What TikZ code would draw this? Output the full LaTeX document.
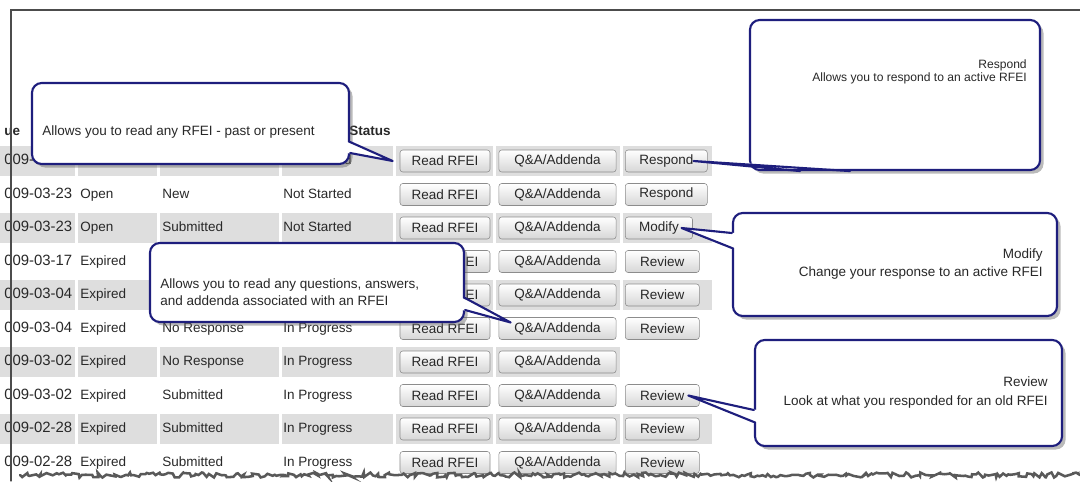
\documentclass[tikz,border=0pt]{standalone}
\usepackage{fontspec}
\setmainfont{Liberation Sans}
\usetikzlibrary{calc,shadows,decorations.pathmorphing}
\definecolor{tipblue}{RGB}{30,30,125}
\definecolor{inkgray}{RGB}{40,40,40}
\newcommand\tbfont{\fontsize{9.6}{11.5}\selectfont}

\tikzset{
  cell/.style={fill=black!13},
  btn/.style={draw=black!45,rounded corners=2pt,top color=white,bottom color=black!16,
    minimum height=0.55cm,inner sep=0pt,text=inkgray},
  tbl/.style={anchor=west,inner sep=0pt,text=inkgray,text height=7pt,text depth=2pt},
  callout/.style={draw=tipblue,line width=1.5pt,fill=white,rounded corners=7pt,inner sep=0pt,
    drop shadow={shadow xshift=2.5pt,shadow yshift=-2.5pt,fill=black!60,opacity=.45}},
  callline/.style={draw=tipblue,line width=1.5pt,line join=round},
  calltext/.style={inner sep=0pt,text=inkgray},
}

\begin{document}
\begin{tikzpicture}[x=0.025cm,y=-0.025cm,font=\tbfont,line cap=round]
\useasboundingbox (0,0) rectangle (1080,481);
\clip (0,0) rectangle (1080,481);
% shaded rows
\foreach \i in {1,3,5,7,9}{
  \pgfmathsetmacro\ry{161+33.5*(\i-1)}
  \foreach \a/\b in {-2/75,78/157,160/279,282/393,396/493,496/620}
    \fill[cell] (\a,\ry-15) rectangle (\b,\ry+15);
}
\foreach \i in {1,3,5,9}{
  \pgfmathsetmacro\ry{161+33.5*(\i-1)}
  \fill[cell] (623,\ry-15) rectangle (712,\ry+15);
}
% header
\node[tbl,font=\tbfont\bfseries] (hdue) at (4,132) {ue};
\node[tbl,font=\tbfont\bfseries] (hstatus) at (349,132) {Status};
% table text
\foreach \i/\d/\s/\r/\p in {1/009-03-23/{}/{}/Not Started,
    2/009-03-23/Open/New/Not Started,
    3/009-03-23/Open/Submitted/Not Started,
    4/009-03-17/Expired/{}/{},
    5/009-03-04/Expired/{}/{},
    6/009-03-04/Expired/No Response/In Progress,
    7/009-03-02/Expired/No Response/In Progress,
    8/009-03-02/Expired/Submitted/In Progress,
    9/009-02-28/Expired/Submitted/In Progress,
    10/009-02-28/Expired/Submitted/In Progress}{
  \pgfmathsetmacro\ry{161+33.5*(\i-1)}
  \node[tbl,font=\fontsize{10.6}{12}\selectfont] (date\i) at (4,\ry) {\d};
  \node[tbl] (stat\i) at (80,\ry) {\s};
  \node[tbl] (resp\i) at (162,\ry) {\r};
  \node[tbl] (prog\i) at (283,\ry) {\p};
}
% buttons
\foreach \i in {1,...,10}{
  \pgfmathsetmacro\ry{161+33.5*(\i-1)}
  \node[btn,minimum width=2.25cm] (read\i) at (445,\ry) {Read RFEI};
  \node[btn,minimum width=2.93cm] (qa\i) at (557.5,\ry) {Q\&A/Addenda};
}
\foreach \i/\t/\w in {1/Respond/2.05,2/Respond/2.05,3/Modify/1.68,4/Review/1.85,
    5/Review/1.85,6/Review/1.85,8/Review/1.85,9/Review/1.85,10/Review/1.85}{
  \pgfmathsetmacro\ry{161+33.5*(\i-1)}
  \node[btn,anchor=west,minimum width=\w cm] (act\i) at (625,\ry) {\t};
}
% callouts
\node[callout,minimum width=7.925cm,minimum height=2.025cm] (readbox) at (190.5,123.5) {};
\fill[white] ($(readbox.east)+(-3,18.5)$) -- ([xshift=-5pt]read1.west) -- ($(readbox.east)+(-3,29.5)$) -- cycle;
\draw[callline] ($(readbox.east)+(0,18.5)$) -- ([xshift=-5pt]read1.west) -- ($(readbox.east)+(0,29.5)$);
\node[calltext,anchor=west] (readtxt) at (42,132) {Allows you to read any RFEI - past or present};

\node[callout,minimum width=7.25cm,minimum height=3.75cm] (respbox) at (895,95) {};
\fill[white] ($(respbox.south)+(-95,-3)$) -- ([xshift=-10pt]act1.east) -- ($(respbox.south)+(-45,-3)$) -- cycle;
\draw[callline] ($(respbox.south)+(-95,0)$) -- ([xshift=-10pt]act1.east) -- ($(respbox.south)+(-45,0)$);
\node[calltext,anchor=east,align=right,font=\fontsize{8.6}{9.4}\selectfont] (resptxt) at (1027,71.5)
  {Respond\\Allows you to respond to an active RFEI};

\node[callout,minimum width=7.85cm,minimum height=1.975cm] (qabox) at (307,282.5) {};
\fill[white] ($(qabox.east)+(-3,15.5)$) -- ($(qa6.west)+(12,-6)$) -- ($(qabox.east)+(-3,27.5)$) -- cycle;
\draw[callline] ($(qabox.east)+(0,15.5)$) -- ($(qa6.west)+(12,-6)$) -- ($(qabox.east)+(0,27.5)$);
\node[calltext,anchor=west,align=left,font=\fontsize{9.6}{12}\selectfont] (qatxt) at (160,292.5)
  {Allows you to read any questions, answers,\\and addenda associated with an RFEI};

\node[callout,minimum width=8.1cm,minimum height=2.575cm] (modbox) at (895,264.5) {};
\fill[white] ($(modbox.west)+(3,-31.5)$) -- ([xshift=-8pt]act3.east) -- ($(modbox.west)+(3,-16.5)$) -- cycle;
\draw[callline] ($(modbox.west)+(0,-31.5)$) -- ([xshift=-8pt]act3.east) -- ($(modbox.west)+(0,-16.5)$);
\node[calltext,anchor=east,align=right,font=\fontsize{9.6}{12.8}\selectfont] (modtxt) at (1043,264)
  {Modify\\Change your response to an active RFEI};

\node[callout,minimum width=7.675cm,minimum height=2.65cm] (revbox) at (908.5,393) {};
\fill[white] ($(revbox.west)+(3,17)$) -- ([xshift=-8pt]act8.east) -- ($(revbox.west)+(3,29)$) -- cycle;
\draw[callline] ($(revbox.west)+(0,17)$) -- ([xshift=-8pt]act8.east) -- ($(revbox.west)+(0,29)$);
\node[calltext,anchor=east,align=right,font=\fontsize{9.6}{13.5}\selectfont] (revtxt) at (1048,392.5)
  {Review\\Look at what you responded for an old RFEI};
% frame and torn edge
\draw[black!70,line width=0.9pt] (11,481) -- (11,10) -- (1080,10);
\draw[black!65,line width=1.8pt,decorate,decoration={random steps,segment length=2pt,amplitude=1.8pt}]
  (20,475) -- (1080,475);
\end{tikzpicture}
\end{document}
